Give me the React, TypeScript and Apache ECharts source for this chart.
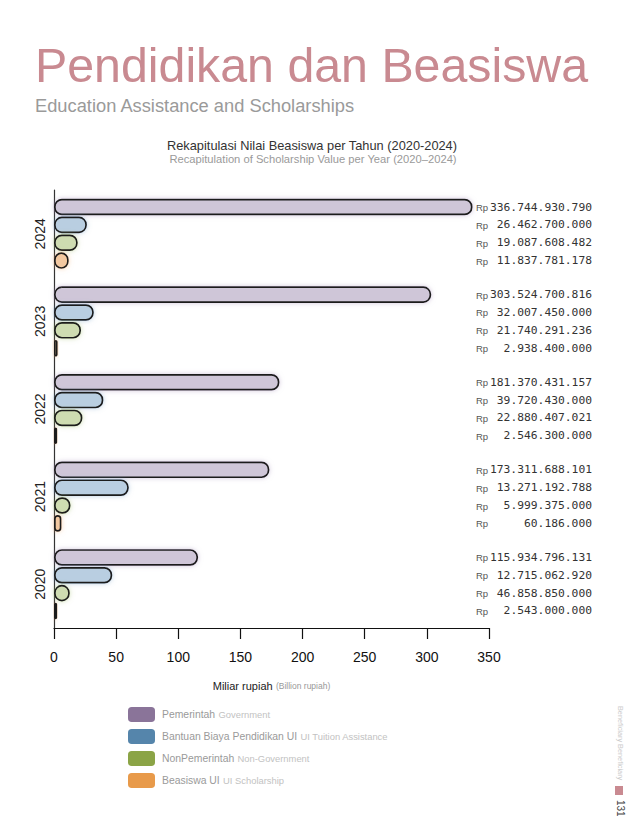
import React, { useEffect, useRef } from 'react';
import * as echarts from 'echarts';

const years = ['2024', '2023', '2022', '2021', '2020'];
const seriesNames = ['Pemerintah', 'Bantuan Biaya Pendidikan UI', 'NonPemerintah', 'Beasiswa UI'];
const seriesNamesEn = ['Government', 'UI Tuition Assistance', 'Non-Government', 'UI Scholarship'];

// bar lengths (billion rupiah)
const pemerintah = [336.74, 303.52, 181.37, 173.31, 115.93];
const bantuan = [26.46, 32.01, 39.72, 60.19, 46.86];
const nonPemerintah = [19.09, 21.74, 22.88, 13.27, 12.72];
const beasiswaUI = [11.84, 2.94, 2.55, 6.0, 2.54];

// value labels printed at the right
const labelPemerintah = ['336.744.930.790', '303.524.700.816', '181.370.431.157', '173.311.688.101', '115.934.796.131'];
const labelBantuan = ['26.462.700.000', '32.007.450.000', '39.720.430.000', '13.271.192.788', '12.715.062.920'];
const labelNonPemerintah = ['19.087.608.482', '21.740.291.236', '22.880.407.021', '5.999.375.000', '46.858.850.000'];
const labelBeasiswaUI = ['11.837.781.178', '2.938.400.000', '2.546.300.000', '60.186.000', '2.543.000.000'];

const xMin = 0;
const xMax = 350;
const xInterval = 50;

const legendColors = ['#8a7499', '#5585ab', '#8ba446', '#e89a4a'];
const fillColors = ['#cfc6d8', '#b9cee1', '#cedcb1', '#f3c8a0'];
const glowColors = ['rgba(170,150,190,0.55)', 'rgba(120,160,200,0.5)', 'rgba(160,190,110,0.5)', 'rgba(240,170,110,0.5)'];

const FONT = '"Liberation Sans", Arial, Helvetica, sans-serif';
const MONO = '"DejaVu Sans Mono", "Liberation Mono", monospace';

export default function App() {
  const ref = useRef<HTMLDivElement>(null);

  useEffect(() => {
    document.body.style.margin = '0';
    const chart = echarts.init(ref.current as HTMLDivElement, null, { renderer: 'svg' });

    const values = [pemerintah, bantuan, nonPemerintah, beasiswaUI];
    const labelSets = [labelPemerintah, labelBantuan, labelNonPemerintah, labelBeasiswaUI];

    const barSeries = seriesNames.map((name, i) => ({
      name,
      type: 'bar',
      data: values[i],
      barCategoryGap: '20%',
      barGap: '8%',
      itemStyle: {
        color: fillColors[i],
        borderColor: '#1c1c1c',
        borderWidth: 1.7,
        borderRadius: 7,
        shadowColor: glowColors[i],
        shadowBlur: 5,
      },
      emphasis: { disabled: true },
    }));

    const labelData: number[][] = [];
    for (let s = 0; s < 4; s++) {
      for (let c = 0; c < years.length; c++) labelData.push([xMax, c, s]);
    }

    const labelSeries = {
      type: 'custom',
      name: 'labels',
      clip: false,
      silent: true,
      encode: { x: 0, y: 1 },
      data: labelData,
      renderItem: (_params: any, api: any) => {
        const cat = api.value(1);
        const slot = api.value(2);
        const p = api.coord([xMax, cat]);
        const band = Math.abs(api.size([0, 1])[1]);
        const w = (band * 0.8) / (4 + 3 * 0.08);
        const y = p[1] - band * 0.4 + w / 2 + slot * w * 1.08;
        const txt = labelSets[slot][cat];
        return {
          type: 'group',
          children: [
            {
              type: 'text',
              x: p[0] - 13,
              y: y + 0.5,
              style: { text: 'Rp', fontSize: 9.5, fontFamily: FONT, fill: '#555', align: 'left', verticalAlign: 'middle' },
            },
            {
              type: 'text',
              x: p[0] + 103,
              y,
              style: { text: txt, fontSize: 11.3, fontFamily: MONO, fill: '#333', align: 'right', verticalAlign: 'middle' },
            },
          ],
        };
      },
    };

    const option: any = {
      animation: false,
      textStyle: { fontFamily: FONT },
      grid: { left: 54, right: 147, top: 190, bottom: 203, containLabel: false },
      xAxis: {
        type: 'value',
        min: xMin,
        max: xMax,
        interval: xInterval,
        splitLine: { show: false },
        axisLine: { show: true, lineStyle: { color: '#111', width: 1.2 } },
        axisTick: { show: true, length: 11, lineStyle: { color: '#111', width: 1.2 } },
        axisLabel: { color: '#111', fontSize: 14, margin: 22, fontFamily: FONT },
        name: '{a|Miliar rupiah} {b|(Billion rupiah)}',
        nameLocation: 'middle',
        nameGap: 52,
        nameTextStyle: {
          rich: {
            a: { fontSize: 11, color: '#222', fontFamily: FONT },
            b: { fontSize: 8.5, color: '#999', fontFamily: FONT },
          },
        },
      },
      yAxis: {
        type: 'category',
        data: years,
        inverse: true,
        axisLine: { show: true, lineStyle: { color: '#333', width: 1.2 } },
        axisTick: { show: false },
        axisLabel: { rotate: 90, fontSize: 14, color: '#222', margin: 7, fontFamily: FONT },
        splitLine: { show: false },
      },
      legend: {
        orient: 'vertical',
        left: 128,
        top: 707,
        padding: 0,
        itemWidth: 27,
        itemHeight: 15,
        itemGap: 7,
        icon: 'roundRect',
        selectedMode: false,
        itemStyle: { borderWidth: 0, shadowBlur: 0 },
        data: seriesNames.map((n, i) => ({ name: n, itemStyle: { color: legendColors[i], borderWidth: 0 } })),
        formatter: (name: string) => {
          const i = seriesNames.indexOf(name);
          return `{a|${name}} {b|${seriesNamesEn[i]}}`;
        },
        textStyle: {
          padding: [0, 0, 0, 2],
          rich: {
            a: { fontSize: 10.4, color: '#9a9a9a', fontFamily: FONT },
            b: { fontSize: 9.4, color: '#c2c2c2', fontFamily: FONT },
          },
        },
      },
      graphic: [
        {
          type: 'text',
          left: 35,
          top: 40.5,
          style: { text: 'Pendidikan dan Beasiswa', fontSize: 48.3, fontFamily: FONT, fill: '#c98a91' },
        },
        {
          type: 'text',
          left: 35,
          top: 96,
          style: { text: 'Education Assistance and Scholarships', fontSize: 18.3, fontFamily: FONT, fill: '#9a9a9a' },
        },
        {
          type: 'text',
          x: 312,
          y: 145,
          style: { text: 'Rekapitulasi Nilai Beasiswa per Tahun (2020-2024)', fontSize: 12.8, fontFamily: FONT, fill: '#333', align: 'center', verticalAlign: 'middle' },
        },
        {
          type: 'text',
          x: 313,
          y: 159,
          style: { text: 'Recapitulation of Scholarship Value per Year (2020–2024)', fontSize: 11.2, fontFamily: FONT, fill: '#9a9a9a', align: 'center', verticalAlign: 'middle' },
        },
        {
          type: 'text',
          x: 620,
          y: 706,
          rotation: -Math.PI / 2,
          style: { text: 'Beneficiary Beneficiary', fontSize: 7.3, fontFamily: FONT, fill: '#cccccc', align: 'left', verticalAlign: 'middle' },
        },
        {
          type: 'rect',
          shape: { x: 615, y: 786, width: 8, height: 9 },
          style: { fill: '#c98a91' },
        },
        {
          type: 'text',
          x: 620,
          y: 800,
          rotation: -Math.PI / 2,
          style: { text: '131', fontSize: 10, fontFamily: FONT, fill: '#444', align: 'left', verticalAlign: 'middle' },
        },
      ],
      series: [...barSeries, labelSeries],
    };

    chart.setOption(option);
    return () => chart.dispose();
  }, []);

  return <div ref={ref} style={{ width: 636, height: 831 }} />;
}
